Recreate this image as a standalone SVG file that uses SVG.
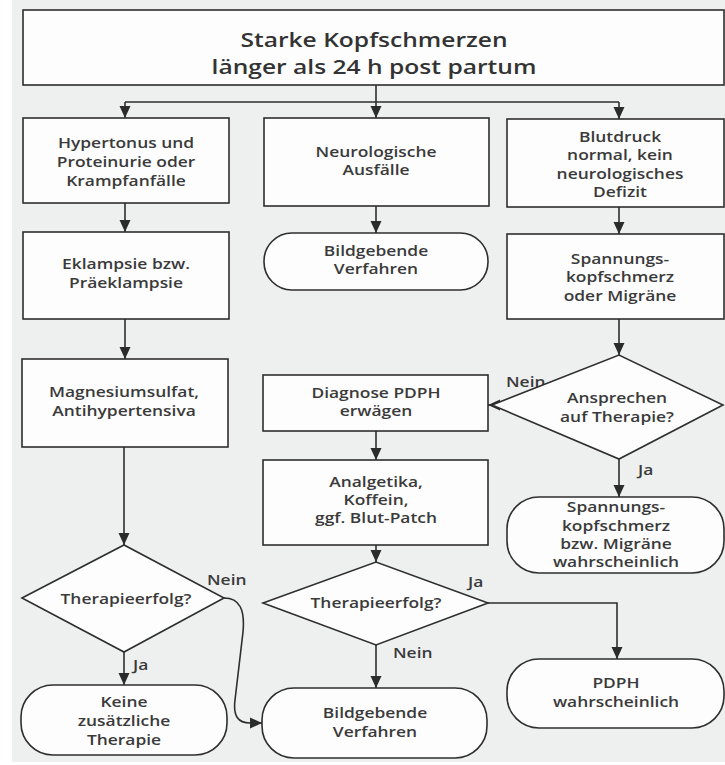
<svg xmlns="http://www.w3.org/2000/svg" width="725" height="765" viewBox="0 0 725 765">
  <style>
    .box { fill: #fdfdfd; stroke: #2e2e2e; stroke-width: 1.6; }
    .line { fill: none; stroke: #2e2e2e; stroke-width: 1.6; }
    .t { font-family: "Open Sans", "Liberation Sans", sans-serif; font-weight: 600; font-size: 14.5px; fill: #3a3a3a; text-anchor: middle; }
    .title { font-family: "Open Sans", "Liberation Sans", sans-serif; font-weight: 600; font-size: 20.5px; fill: #333; text-anchor: middle; }
    .lbl { font-family: "Open Sans", "Liberation Sans", sans-serif; font-weight: 600; font-size: 14.5px; fill: #3a3a3a; text-anchor: start; }
  </style>
  <defs>
    <marker id="arrow" markerUnits="userSpaceOnUse" markerWidth="12" markerHeight="12" viewBox="0 0 12 12" refX="12" refY="6" orient="auto">
      <path d="M0,0.5 L12,6 L0,11.5 Z" fill="#2b2b2b"/>
    </marker>
  </defs>

  <!-- page -->
  <rect x="0" y="0" width="725" height="765" fill="#ffffff"/>
  <rect x="12" y="0" width="713" height="762" fill="#eef0f0"/>

  <!-- connectors -->
  <g id="connectors">
    <path class="line" d="M376,85 V102"/>
    <path class="line" d="M125,102 H619"/>
    <path class="line" d="M125,102 V118" marker-end="url(#arrow)"/>
    <path class="line" d="M376,102 V118" marker-end="url(#arrow)"/>
    <path class="line" d="M619,102 V119" marker-end="url(#arrow)"/>

    <path class="line" d="M125,203 V232" marker-end="url(#arrow)"/>
    <path class="line" d="M376,206 V233" marker-end="url(#arrow)"/>
    <path class="line" d="M619,207 V234" marker-end="url(#arrow)"/>

    <path class="line" d="M125,319 V359" marker-end="url(#arrow)"/>
    <path class="line" d="M619,319 V355" marker-end="url(#arrow)"/>

    <path class="line" d="M500,405 H488" marker-end="url(#arrow)"/>
    <path class="line" d="M619,459 V497" marker-end="url(#arrow)"/>
    <path class="line" d="M376,431 V460" marker-end="url(#arrow)"/>

    <path class="line" d="M124,447 V545" marker-end="url(#arrow)"/>
    <path class="line" d="M376,545 V562" marker-end="url(#arrow)"/>

    <path class="line" d="M124,652 V685" marker-end="url(#arrow)"/>
    <path class="line" d="M224,598 C240,598 245,610 243,632 L235,700 C233,716 238,723 250,723 L262,723" marker-end="url(#arrow)"/>

    <path class="line" d="M488,603 H617 V659" marker-end="url(#arrow)"/>
    <path class="line" d="M376,645 V688" marker-end="url(#arrow)"/>

    <text class="lbl" transform="translate(506,0) scale(1.2,1)"><tspan x="0" y="387">Nein</tspan></text>
    <text class="lbl" transform="translate(638,0) scale(1.2,1)"><tspan x="0" y="475">Ja</tspan></text>
    <text class="lbl" transform="translate(207,0) scale(1.2,1)"><tspan x="0" y="585">Nein</tspan></text>
    <text class="lbl" transform="translate(133,0) scale(1.2,1)"><tspan x="0" y="670">Ja</tspan></text>
    <text class="lbl" transform="translate(468,0) scale(1.2,1)"><tspan x="0" y="587">Ja</tspan></text>
    <text class="lbl" transform="translate(393,0) scale(1.2,1)"><tspan x="0" y="658">Nein</tspan></text>
  </g>

  <!-- start -->
  <g id="start">
    <rect class="box" x="23" y="10" width="701" height="75"/>
    <text class="title" transform="translate(374,0) scale(1.2,1)"><tspan x="0" y="47">Starke Kopfschmerzen</tspan><tspan x="0" y="74">länger als 24 h post partum</tspan></text>
  </g>

  <!-- left column -->
  <g id="hypertonus">
    <rect class="box" x="23" y="118" width="206" height="85"/>
    <text class="t" transform="translate(126,0) scale(1.2,1)"><tspan x="0" y="148">Hypertonus und</tspan><tspan x="0" y="167">Proteinurie oder</tspan><tspan x="0" y="186">Krampfanfälle</tspan></text>
  </g>
  <g id="eklampsie">
    <rect class="box" x="23" y="232" width="206" height="87"/>
    <text class="t" transform="translate(126,0) scale(1.2,1)"><tspan x="0" y="269">Eklampsie bzw.</tspan><tspan x="0" y="288">Präeklampsie</tspan></text>
  </g>
  <g id="magnesium">
    <rect class="box" x="22" y="359" width="206" height="88"/>
    <text class="t" transform="translate(124,0) scale(1.2,1)"><tspan x="0" y="397">Magnesiumsulfat,</tspan><tspan x="0" y="416">Antihypertensiva</tspan></text>
  </g>
  <g id="erfolg-links">
    <polygon class="box" points="22,598 124,545 224,598 124,652"/>
    <text class="t" transform="translate(126,0) scale(1.2,1)"><tspan x="0" y="604">Therapieerfolg?</tspan></text>
  </g>
  <g id="keine-therapie">
    <rect class="box" x="21" y="685" width="206" height="70" rx="32" ry="32"/>
    <text class="t" transform="translate(124,0) scale(1.2,1)"><tspan x="0" y="707">Keine</tspan><tspan x="0" y="726">zusätzliche</tspan><tspan x="0" y="745">Therapie</tspan></text>
  </g>

  <!-- middle column -->
  <g id="neuro">
    <rect class="box" x="264" y="118" width="225" height="88"/>
    <text class="t" transform="translate(376,0) scale(1.2,1)"><tspan x="0" y="157">Neurologische</tspan><tspan x="0" y="175">Ausfälle</tspan></text>
  </g>
  <g id="bildgebung-1">
    <rect class="box" x="264" y="233" width="224" height="57" rx="28" ry="28"/>
    <text class="t" transform="translate(376,0) scale(1.2,1)"><tspan x="0" y="256">Bildgebende</tspan><tspan x="0" y="274">Verfahren</tspan></text>
  </g>
  <g id="pdph-diagnose">
    <rect class="box" x="263" y="375" width="225" height="56"/>
    <text class="t" transform="translate(376,0) scale(1.2,1)"><tspan x="0" y="398">Diagnose PDPH</tspan><tspan x="0" y="416">erwägen</tspan></text>
  </g>
  <g id="analgetika">
    <rect class="box" x="263" y="460" width="225" height="85"/>
    <text class="t" transform="translate(376,0) scale(1.2,1)"><tspan x="0" y="487">Analgetika,</tspan><tspan x="0" y="505">Koffein,</tspan><tspan x="0" y="523">ggf. Blut-Patch</tspan></text>
  </g>
  <g id="erfolg-mitte">
    <polygon class="box" points="263,603 376,562 488,603 376,645"/>
    <text class="t" transform="translate(376,0) scale(1.2,1)"><tspan x="0" y="608">Therapieerfolg?</tspan></text>
  </g>
  <g id="bildgebung-2">
    <rect class="box" x="262" y="688" width="225" height="70" rx="32" ry="32"/>
    <text class="t" transform="translate(375,0) scale(1.2,1)"><tspan x="0" y="718">Bildgebende</tspan><tspan x="0" y="737">Verfahren</tspan></text>
  </g>

  <!-- right column -->
  <g id="blutdruck">
    <rect class="box" x="507" y="119" width="217" height="88"/>
    <text class="t" transform="translate(620,0) scale(1.2,1)"><tspan x="0" y="142">Blutdruck</tspan><tspan x="0" y="160">normal, kein</tspan><tspan x="0" y="179">neurologisches</tspan><tspan x="0" y="197">Defizit</tspan></text>
  </g>
  <g id="spannung">
    <rect class="box" x="507" y="234" width="217" height="85"/>
    <text class="t" transform="translate(620,0) scale(1.2,1)"><tspan x="0" y="264">Spannungs-</tspan><tspan x="0" y="282">kopfschmerz</tspan><tspan x="0" y="301">oder Migräne</tspan></text>
  </g>
  <g id="ansprechen">
    <polygon class="box" points="492,405 619,355 723,405 619,459"/>
    <text class="t" transform="translate(617,0) scale(1.2,1)"><tspan x="0" y="403">Ansprechen</tspan><tspan x="0" y="422">auf Therapie?</tspan></text>
  </g>
  <g id="spannung-wahrscheinlich">
    <rect class="box" x="507" y="497" width="217" height="76" rx="32" ry="32"/>
    <text class="t" transform="translate(616,0) scale(1.2,1)"><tspan x="0" y="512">Spannungs-</tspan><tspan x="0" y="531">kopfschmerz</tspan><tspan x="0" y="549">bzw. Migräne</tspan><tspan x="0" y="567">wahrscheinlich</tspan></text>
  </g>
  <g id="pdph-wahrscheinlich">
    <rect class="box" x="507" y="659" width="217" height="69" rx="32" ry="32"/>
    <text class="t" transform="translate(616,0) scale(1.2,1)"><tspan x="0" y="688">PDPH</tspan><tspan x="0" y="707">wahrscheinlich</tspan></text>
  </g>
</svg>
